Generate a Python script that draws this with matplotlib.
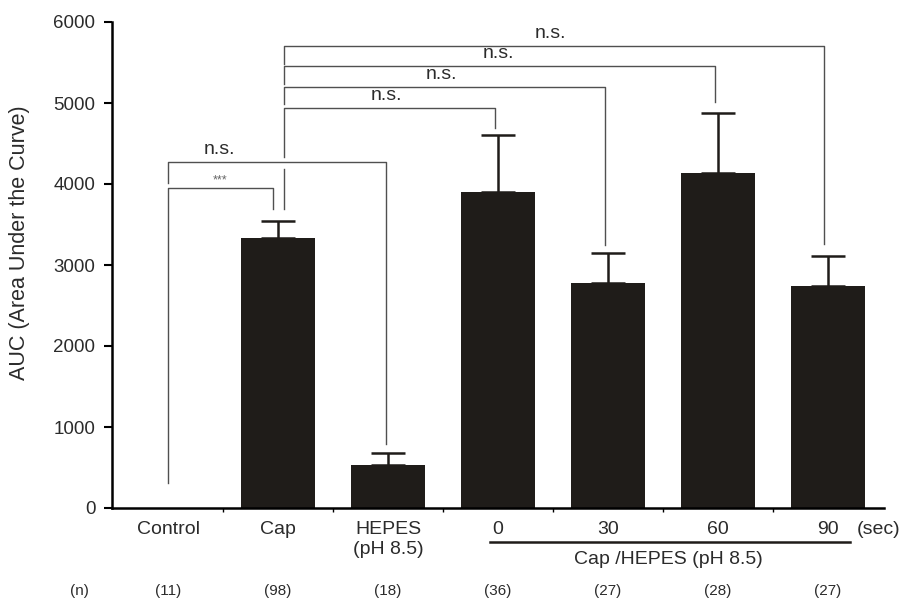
import matplotlib.pyplot as plt

# ---------------- Datos ----------------
categories = ['Control', 'Cap', 'HEPES\n(pH 8.5)', '0', '30', '60', '90']
auc_mean = [0, 3330, 530, 3900, 2780, 4135, 2740]
auc_sem = [0, 210, 150, 705, 370, 740, 370]
n_counts = ['(11)', '(98)', '(18)', '(36)', '(27)', '(28)', '(27)']
y_ticks = [0, 1000, 2000, 3000, 4000, 5000, 6000]

BAR_COLOR = '#1f1c19'
TEXT_COLOR = '#2b2b2b'
LINE_COLOR = '#505050'

plt.rcParams['font.family'] = ['Liberation Sans', 'DejaVu Sans']

fig = plt.figure(figsize=(9.12, 6.02), dpi=100)
ax = fig.add_axes([112 / 912, 1 - 508 / 602, 772 / 912, 486 / 602])

x = list(range(len(categories)))
ax.bar(x, auc_mean, width=0.67, color=BAR_COLOR, zorder=2)
ax.errorbar(x[1:], auc_mean[1:], yerr=[[0] * 6, auc_sem[1:]], fmt='none',
            ecolor=BAR_COLOR, elinewidth=1.8, capsize=12, capthick=1.8, zorder=3)

ax.set_xlim(-0.51, 6.51)
ax.set_ylim(0, 6000)
ax.set_yticks(y_ticks)
ax.set_yticklabels([str(t) for t in y_ticks], fontsize=13.5, color=TEXT_COLOR)
ax.set_xticks([0.5, 1.5, 2.5, 3.5, 4.5, 5.5])
ax.set_xticklabels([])
ax.tick_params(axis='x', length=3, width=1, direction='out')
ax.tick_params(axis='y', length=6, width=1.5, direction='out', pad=6)
for side in ('top', 'right'):
    ax.spines[side].set_visible(False)
ax.spines['left'].set_linewidth(1.8)
ax.spines['bottom'].set_linewidth(1.8)

fig.text(20 / 912, 1 - 243 / 602, 'AUC (Area Under the Curve)', rotation=90,
         ha='center', va='center', fontsize=15.5, color=TEXT_COLOR)

# ---------------- Etiquetas inferiores ----------------
tr = ax.get_xaxis_transform()
def yfrac(py):
    return (508 - py) / 486

for i, lab in enumerate(categories):
    ax.text(i, yfrac(521), lab, transform=tr, ha='center', va='top',
            fontsize=14, color=TEXT_COLOR, linespacing=1.2)
    ax.text(i, yfrac(591), n_counts[i], transform=tr, ha='center', va='center',
            fontsize=11, color=TEXT_COLOR)
ax.text(-0.81, yfrac(591), '(n)', transform=tr, ha='center', va='center',
        fontsize=11, color=TEXT_COLOR)
ax.text(6.26, yfrac(530), '(sec)', transform=tr, ha='left', va='center',
        fontsize=14, color=TEXT_COLOR)
ax.plot([2.93, 6.2], [yfrac(542)] * 2, transform=tr, color=BAR_COLOR,
        lw=1.8, clip_on=False)
ax.text(4.55, yfrac(560), 'Cap /HEPES (pH 8.5)', transform=tr, ha='center',
        va='center', fontsize=14, color=TEXT_COLOR)

# ---------------- Corchetes de significancia ----------------
def seg(xs, ys):
    ax.plot(xs, ys, color=LINE_COLOR, lw=1, clip_on=False, zorder=1)

# Control vs Cap (***)
seg([0, 0, 0.955, 0.955], [310, 3950, 3950, 3690])
ax.text(0.47, 4050, '***', ha='center', va='center', fontsize=9, color='#666666')
# Control vs HEPES (n.s.)
seg([0, 0, 1.98, 1.98], [4010, 4270, 4270, 790])
ax.text(0.47, 4420, 'n.s.', ha='center', va='center', fontsize=14, color=TEXT_COLOR)

# Cap vs Cap/HEPES
cap_x = 1.05
brackets = [
    (5700, 5.96, 3260, 3.48, 5480),
    (5457, 4.97, 5010, 3.00, 5240),
    (5198, 3.97, 3250, 2.49, 4990),
    (4938, 2.97, 4690, 1.99, 4330),
]
for h, xr, bottom, tx, left_end in brackets:
    seg([cap_x, cap_x, xr, xr], [left_end, h, h, bottom])
    ax.text(tx, h + 160, 'n.s.', ha='center', va='center', fontsize=14,
            color=TEXT_COLOR)
seg([cap_x, cap_x], [4180, 3690])

fig.savefig('out.png', dpi=100)
